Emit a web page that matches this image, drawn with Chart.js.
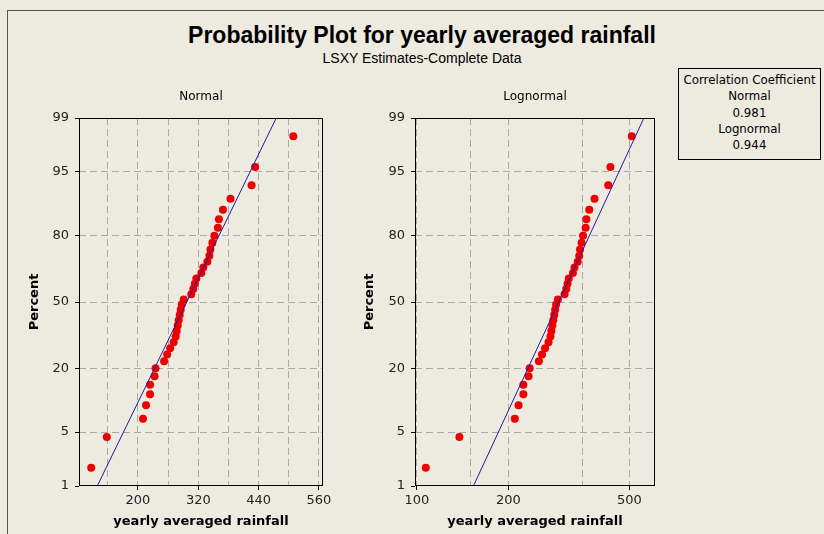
<!DOCTYPE html>
<html>
<head>
<meta charset="utf-8">
<script src="https://cdn.jsdelivr.net/npm/chart.js@4"></script>
<style>
  body { margin: 0; width: 824px; height: 534px; background: #edeae0; overflow: hidden; position: relative; font-family: "DejaVu Sans", sans-serif; }
  #frame { position: absolute; left: 7px; top: 10px; width: 840px; height: 540px; border-left: 1px solid #555; border-top: 1px solid #555; }
  #title { position: absolute; left: 0; top: 21px; width: 844px; text-align: center; font: bold 23px "Liberation Sans", sans-serif; line-height: 28px; color: #000; }
  #subtitle { position: absolute; left: 0; top: 49px; width: 844px; text-align: center; font: 14px "Liberation Sans", sans-serif; line-height: 18px; color: #000; }
  .panel { position: absolute; top: 80px; height: 454px; }
  #left { left: 25px; width: 315px; }
  #right { left: 360px; width: 320px; }
  #corr { position: absolute; left: 678px; top: 68px; width: 141px; height: 87px; border: 1px solid #000; text-align: center; font-size: 11.8px; line-height: 16.3px; padding-top: 3px; box-sizing: content-box; color: #000; }
</style>
</head>
<body>
<div id="frame"></div>
<div id="title">Probability Plot for yearly averaged rainfall</div>
<div id="subtitle">LSXY Estimates-Complete Data</div>
<div id="corr"></div>
<div class="panel" id="left"><canvas id="normalChart"></canvas></div>
<div class="panel" id="right"><canvas id="lognormalChart"></canvas></div>
<script>
// plotted percent (median ranks) and the sorted rainfall values
const plotPercent = [1.8, 4.4, 7.0, 9.6, 12.2, 14.8, 17.4, 20.1, 22.7, 25.3, 27.9, 30.5, 33.1,
  35.7, 38.3, 40.9, 43.5, 46.1, 48.7, 51.3, 53.9, 56.5, 59.1, 61.7, 64.3, 66.9, 69.5, 72.1,
  74.7, 77.3, 79.9, 82.6, 85.2, 87.8, 90.4, 93.0, 95.6, 98.2];
const rainfall = [107, 138, 210, 216, 224, 224, 233, 235, 252, 258, 264, 271, 275,
  277, 279, 281, 283, 285, 287, 291, 306, 310, 313, 316, 326, 330, 338, 342,
  344, 348, 352, 359, 361, 369, 384, 426, 433, 509];

// fitted lines, read at 1% and 99%
const fitPercent = [1, 99];
const normalFitX = [119, 475];
const lognormalFitX = [153.5, 558];

const percentTicks = [1, 5, 20, 50, 80, 95, 99];
const normalTicks = [140, 200, 260, 320, 380, 440, 500, 560];
const normalLabels = [200, 320, 440, 560];
const lognormalTicks = [100, 150, 200, 350, 500];
const lognormalLabels = [100, 200, 500];

const corrNames = ["Normal", "Lognormal"];
const corrValues = ["0.981", "0.944"];

// inverse normal cdf (Acklam) for the probability axis
function probit(p) {
  const a = [-39.69683028665376, 220.9460984245205, -275.9285104469687, 138.3577518672690, -30.66479806614716, 2.506628277459239];
  const b = [-54.47609879822406, 161.5858368580409, -155.6989798598866, 66.80131188771724, -13.28068155288572];
  const c = [-0.007784894002430293, -0.3223964580411365, -2.400758277161838, -2.549671348088002, 4.374664141464968, 2.938163982698783];
  const d = [0.007784695709041462, 0.3224671290700398, 2.445134137142996, 3.754408661907416];
  const plow = 0.02425;
  let q, r;
  if (p < plow) {
    q = Math.sqrt(-2 * Math.log(p));
    return (((((c[0]*q+c[1])*q+c[2])*q+c[3])*q+c[4])*q+c[5]) / ((((d[0]*q+d[1])*q+d[2])*q+d[3])*q+1);
  }
  if (p > 1 - plow) {
    q = Math.sqrt(-2 * Math.log(1 - p));
    return -(((((c[0]*q+c[1])*q+c[2])*q+c[3])*q+c[4])*q+c[5]) / ((((d[0]*q+d[1])*q+d[2])*q+d[3])*q+1);
  }
  q = p - 0.5; r = q * q;
  return (((((a[0]*r+a[1])*r+a[2])*r+a[3])*r+a[4])*r+a[5])*q / (((((b[0]*r+b[1])*r+b[2])*r+b[3])*r+b[4])*r+1);
}

document.getElementById("corr").innerHTML = ["Correlation Coefficient"]
  .concat(...corrNames.map((n, i) => [n, corrValues[i]])).join("<br>");

const framePlugin = {
  id: "frame",
  afterDraw(chart) {
    const { ctx, chartArea: a } = chart;
    ctx.save();
    ctx.strokeStyle = "#000";
    ctx.lineWidth = 1;
    ctx.strokeRect(Math.round(a.left) + 0.5, Math.round(a.top) + 0.5,
      Math.round(a.right - a.left) - 1, Math.round(a.bottom - a.top) - 1);
    ctx.restore();
  }
};

function yAxis(width) {
  return {
    type: "linear",
    min: probit(0.01),
    max: probit(0.99),
    afterBuildTicks: s => { s.ticks = percentTicks.map(p => ({ value: probit(p / 100) })); },
    afterFit: s => { s.width = width; },
    border: { display: false, dash: [7, 4] },
    grid: {
      color: c => (c.index === 0 || c.index === percentTicks.length - 1) ? "rgba(0,0,0,0)" : "#a9a9a9",
      tickColor: "#000", tickLength: 4, tickBorderDash: []
    },
    ticks: { callback: (v, i) => percentTicks[i], color: "#222", padding: 6, font: { family: "DejaVu Sans", size: 13 } },
    title: { display: true, text: "Percent", color: "#000", padding: { top: 2, bottom: 0 }, font: { family: "DejaVu Sans", size: 13, weight: "bold" } }
  };
}

function xAxis(type, min, max, tickVals, labelVals) {
  return {
    type: type,
    min: min,
    max: max,
    afterBuildTicks: s => { s.ticks = tickVals.map(v => ({ value: v })); },
    afterFit: s => { s.height = 48; },
    border: { display: false, dash: [7, 4] },
    grid: {
      color: "#a9a9a9",
      tickColor: c => labelVals.includes(c.tick && c.tick.value) ? "#000" : "rgba(0,0,0,0)",
      tickLength: 4, tickBorderDash: []
    },
    ticks: {
      autoSkip: false, maxRotation: 0, padding: 3, color: "#222",
      font: { family: "DejaVu Sans", size: 13 },
      callback: (v, i) => labelVals.includes(tickVals[i]) ? String(tickVals[i]) : ""
    },
    title: { display: true, text: "yearly averaged rainfall", color: "#000", padding: { top: 0, bottom: 5 }, font: { family: "DejaVu Sans", size: 13, weight: "bold" } }
  };
}

function makeChart(id, name, fitX, xScale, yWidth, padRight) {
  return new Chart(document.getElementById(id), {
    type: "scatter",
    data: {
      datasets: [
        {
          data: fitX.map((x, i) => ({ x: x, y: probit(fitPercent[i] / 100) })),
          showLine: true, borderColor: "#1c1ca8", borderWidth: 1, pointRadius: 0, order: 0
        },
        {
          data: rainfall.map((x, i) => ({ x: x, y: probit(plotPercent[i] / 100) })),
          backgroundColor: "#ee0000", borderWidth: 0, pointRadius: 4, order: 1
        }
      ]
    },
    options: {
      responsive: true,
      maintainAspectRatio: false,
      animation: false,
      layout: { padding: { right: padRight, left: 0, top: 0, bottom: 0 } },
      plugins: {
        legend: { display: false },
        tooltip: { enabled: false },
        title: { display: true, text: name, fullSize: false, color: "#000", padding: { top: 10, bottom: 13.6 }, font: { family: "DejaVu Sans", size: 12, weight: "normal" } }
      },
      scales: { x: xScale, y: yAxis(yWidth) }
    },
    plugins: [framePlugin]
  });
}

makeChart("normalChart", "Normal", normalFitX,
  xAxis("linear", 82.7, 568, normalTicks, normalLabels), 54, 17);
makeChart("lognormalChart", "Lognormal", lognormalFitX,
  xAxis("logarithmic", 98.6, 607, lognormalTicks, lognormalLabels), 55, 25);
</script>
</body>
</html>
